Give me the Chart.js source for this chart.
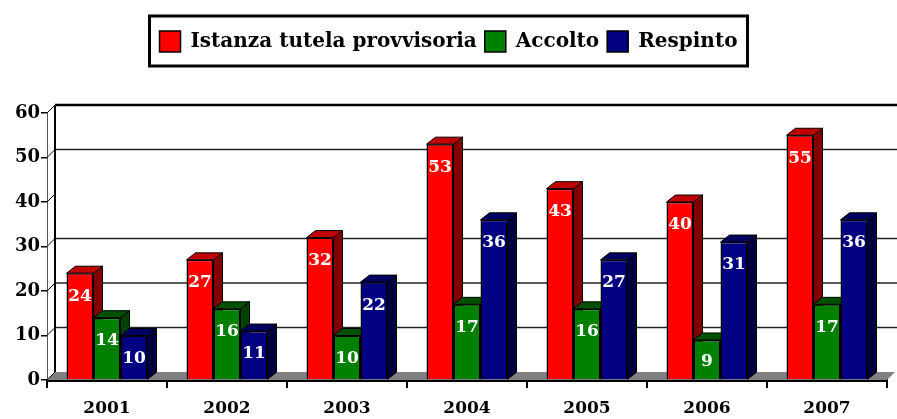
<!DOCTYPE html>
<html>
<head>
<meta charset="utf-8">
<script src="https://cdn.jsdelivr.net/npm/chart.js@4.4.0/dist/chart.umd.min.js"></script>
<style>
  html, body { margin: 0; padding: 0; background: #fff; }
</style>
</head>
<body>
<canvas id="myChart" width="897" height="419"></canvas>
<script>
// data
const years = ['2001', '2002', '2003', '2004', '2005', '2006', '2007']
const istanza = [24, 27, 32, 53, 43, 40, 55]
const accolto = [14, 16, 10, 17, 16, 9, 17]
const respinto = [10, 11, 22, 36, 27, 31, 36]
const yTicks = [0, 10, 20, 30, 40, 50, 60]

const SERIF = "'DejaVu Serif', 'Liberation Serif', serif"
const WX = 8, WY = 8 // depth of the back wall
const BX = 9, BY = 7 // depth of each bar

// make room under the legend
const legendSpace = {
  id: 'legendSpace',
  beforeInit(chart) {
    const fit = chart.legend.fit
    chart.legend.fit = function () {
      fit.bind(chart.legend)()
      this.height = 90
    }
  }
}

// back wall, floor and the top/side faces of the bars
const depth = {
  id: 'depth',
  beforeDatasetsDraw(chart) {
    const ctx = chart.ctx
    const { left, right, top, bottom } = chart.chartArea
    const y = chart.scales.y
    ctx.save()
    // floor
    ctx.fillStyle = '#808080'
    ctx.beginPath()
    ctx.moveTo(left, bottom)
    ctx.lineTo(left + WX, bottom - WY)
    ctx.lineTo(right + WX, bottom - WY)
    ctx.lineTo(right, bottom)
    ctx.closePath()
    ctx.fill()
    // grid lines on the back wall
    yTicks.forEach(v => {
      const py = y.getPixelForValue(v)
      ctx.strokeStyle = '#000'
      ctx.lineWidth = 1
      ctx.beginPath()
      ctx.moveTo(left, py)
      ctx.lineTo(left + WX, py - WY)
      ctx.stroke()
      if (v === 0 || v === 40) return
      ctx.lineWidth = v === 60 ? 2.5 : 1.3
      ctx.strokeStyle = v === 60 ? '#000' : '#222'
      ctx.beginPath()
      ctx.moveTo(left + WX, py - WY)
      ctx.lineTo(chart.width, py - WY)
      ctx.stroke()
    })
    // left edge of the back wall
    ctx.lineWidth = 2
    ctx.strokeStyle = '#000'
    ctx.beginPath()
    ctx.moveTo(left + WX, top - WY)
    ctx.lineTo(left + WX, bottom - WY)
    ctx.stroke()

    // top and side faces
    ctx.lineWidth = 1
    ctx.strokeStyle = '#000'
    for (let i = 0; i < years.length; i++) {
      chart.data.datasets.forEach((ds, d) => {
        const bar = chart.getDatasetMeta(d).data[i]
        const l = bar.x - bar.width / 2
        const r = bar.x + bar.width / 2
        ctx.fillStyle = ds.sideColor
        ctx.beginPath()
        ctx.moveTo(r, bar.y)
        ctx.lineTo(r + BX, bar.y - BY)
        ctx.lineTo(r + BX, bar.base - BY)
        ctx.lineTo(r, bar.base)
        ctx.closePath()
        ctx.fill()
        ctx.stroke()
        ctx.fillStyle = ds.topColor
        ctx.beginPath()
        ctx.moveTo(l, bar.y)
        ctx.lineTo(l + BX, bar.y - BY)
        ctx.lineTo(r + BX, bar.y - BY)
        ctx.lineTo(r, bar.y)
        ctx.closePath()
        ctx.fill()
        ctx.stroke()
      })
    }
    ctx.restore()
  },
  afterDatasetsDraw(chart) {
    const ctx = chart.ctx
    ctx.save()
    ctx.fillStyle = '#fff'
    ctx.font = 'bold 17px ' + SERIF
    ctx.textAlign = 'center'
    ctx.textBaseline = 'middle'
    chart.data.datasets.forEach((ds, d) => {
      chart.getDatasetMeta(d).data.forEach((bar, i) => {
        const h = bar.base - bar.y
        ctx.fillText(ds.data[i], bar.x, bar.y + Math.min(23, h / 2 + 2))
      })
    })
    ctx.restore()
  },
  afterDraw(chart) {
    // frame round the legend
    const boxes = chart.legend.legendHitBoxes
    if (!boxes || !boxes.length) return
    const l = Math.min(...boxes.map(b => b.left)) - 10
    const r = Math.max(...boxes.map(b => b.left + b.width)) + 10
    const t = boxes[0].top - 15
    const b = boxes[0].top + boxes[0].height + 14
    const ctx = chart.ctx
    ctx.save()
    ctx.strokeStyle = '#000'
    ctx.lineWidth = 3
    ctx.strokeRect(l, t, r - l, b - t)
    ctx.restore()
  }
}

const ctx = document.getElementById('myChart')
const myChart = new Chart(ctx, {
  type: 'bar',
  data: {
    labels: years,
    datasets: [
      {
        label: 'Istanza tutela provvisoria',
        data: istanza,
        backgroundColor: '#ff0000',
        topColor: '#c00000',
        sideColor: '#800000',
        borderColor: '#000',
        borderWidth: 1.5
      },
      {
        label: 'Accolto',
        data: accolto,
        backgroundColor: '#008000',
        topColor: '#005000',
        sideColor: '#004000',
        borderColor: '#000',
        borderWidth: 1.5
      },
      {
        label: 'Respinto',
        data: respinto,
        backgroundColor: '#000080',
        topColor: '#000060',
        sideColor: '#000040',
        borderColor: '#000',
        borderWidth: 1.5
      }
    ]
  },
  options: {
    responsive: false,
    animation: false,
    layout: { padding: { top: 23, right: 10, left: 10, bottom: 0 } },
    datasets: {
      bar: { categoryPercentage: 0.675, barPercentage: 1 }
    },
    plugins: {
      tooltip: { enabled: false },
      legend: {
        position: 'top',
        labels: {
          color: '#000',
          font: { family: SERIF, size: 20, weight: 'bold' },
          boxWidth: 21,
          boxHeight: 21,
          padding: 8
        }
      }
    },
    scales: {
      x: {
        afterFit: s => { s.height = 39 },
        grid: { display: true, drawOnChartArea: false, color: '#000', lineWidth: 2, tickLength: 8 },
        border: { display: true, color: '#000', width: 3 },
        ticks: { color: '#000', padding: 10, font: { family: SERIF, size: 17, weight: 'bold' } }
      },
      y: {
        min: 0,
        max: 60,
        afterFit: s => { s.width = 37 },
        afterBuildTicks: s => { s.ticks = yTicks.map(v => ({ value: v })) },
        grid: { display: true, drawOnChartArea: false, color: '#000', lineWidth: 1.5, tickLength: 6 },
        border: { display: true, color: '#555', width: 1 },
        ticks: { color: '#000', padding: 1, font: { family: SERIF, size: 18, weight: 'bold' } }
      }
    }
  },
  plugins: [legendSpace, depth]
})
</script>
</body>
</html>
